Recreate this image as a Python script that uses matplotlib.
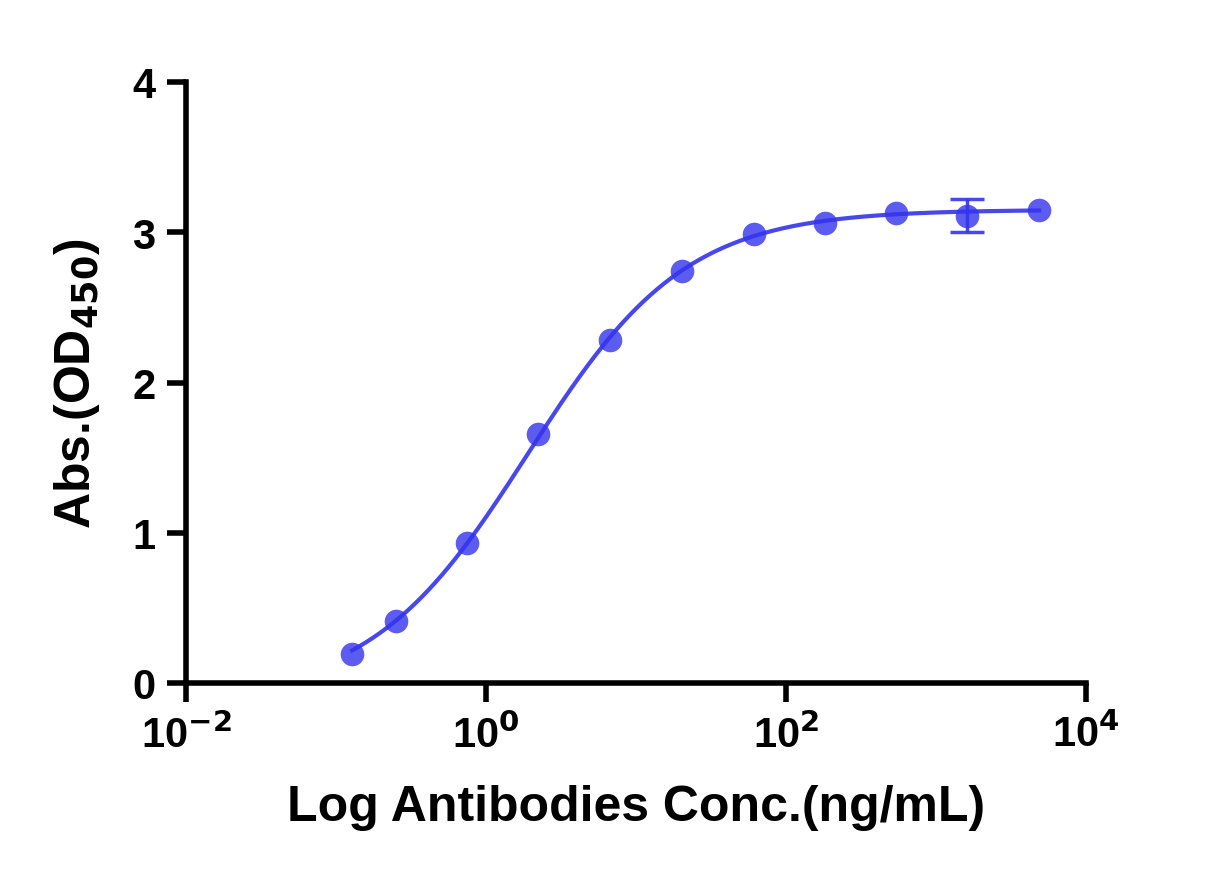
import numpy as np
import matplotlib
matplotlib.use("Agg")
import matplotlib.pyplot as plt
from matplotlib.ticker import FixedLocator, NullLocator

plt.rcParams['font.family'] = ['Liberation Sans', 'DejaVu Sans']
plt.rcParams['font.weight'] = 'bold'
plt.rcParams['mathtext.default'] = 'bf'
plt.rcParams['axes.unicode_minus'] = False

conc = [0.128, 0.25, 0.75, 2.22, 6.7, 20.3, 61, 181, 539, 1608, 4860]
od = [0.19, 0.41, 0.93, 1.66, 2.28, 2.74, 2.99, 3.06, 3.13, 3.11, 3.15]
err = [0, 0, 0, 0, 0, 0, 0, 0, 0, 0.11, 0]

x = np.array(conc); y = np.array(od)
def f(x, b, t, c, h):
    return b + (t - b) / (1 + (c / x) ** h)
best = None
for b in np.linspace(-0.1, 0.2, 13):
    for t in np.linspace(3.05, 3.25, 11):
        for c in np.linspace(1.0, 4.0, 31):
            for h in np.linspace(0.6, 1.4, 33):
                s = np.sum((f(x, b, t, c, h) - y) ** 2)
                if best is None or s < best[0]:
                    best = (s, b, t, c, h)
_, b, t, c, h = best

fig = plt.figure(figsize=(12.28, 8.87), dpi=100)
ax = fig.add_axes([186/1228, 1-684/887, 900/1228, 601/887])
col = '#3333ee'
xs = np.logspace(np.log10(conc[0]), np.log10(conc[-1]), 400)
ax.plot(xs, f(xs, b, t, c, h), color=col, lw=3, alpha=0.9)
ax.plot(conc, od, 'o', ms=17, color=col, alpha=0.8, mec='none')
ex = [c_ for c_, e in zip(conc, err) if e > 0]
ey = [o for o, e in zip(od, err) if e > 0]
ee = [e for e in err if e > 0]
ax.errorbar(ex, ey, yerr=ee, fmt='none', ecolor=col, elinewidth=2.5,
            capsize=12, capthick=2.5, alpha=0.9)
ax.set_xscale('log')
ax.set_xlim(1e-2, 1e4)
ax.set_ylim(0, 4)
ax.xaxis.set_major_locator(FixedLocator([1e-2, 1, 1e2, 1e4]))
ax.xaxis.set_minor_locator(NullLocator())
ax.set_xticklabels(['10$^{-2}$', '10$^{0}$', '10$^{2}$', '10$^{4}$'])
ax.set_yticks([0, 1, 2, 3, 4])
for s in ['top', 'right']:
    ax.spines[s].set_visible(False)
for s in ['left', 'bottom']:
    ax.spines[s].set_linewidth(4)
ax.tick_params(width=4, length=14, labelsize=30, pad=8)
ax.set_xlabel('Log Antibodies Conc.(ng/mL)', fontsize=36, fontweight='bold', labelpad=20)
ax.set_ylabel('Abs.(OD$_{\\mathbf{450}}$)', fontsize=36, fontweight='bold', labelpad=22)
for lab in ax.get_xticklabels() + ax.get_yticklabels():
    lab.set_fontweight('bold')
fig.savefig('out.png', dpi=100)
